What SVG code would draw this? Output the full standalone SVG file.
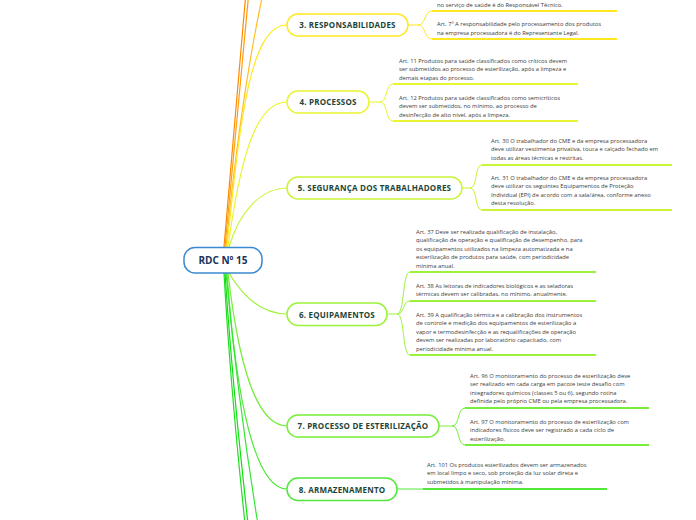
<svg xmlns="http://www.w3.org/2000/svg" width="696" height="520" viewBox="0 0 696 520">
<style>
.c{fill:none;stroke-width:1.2}
.l{fill:none;stroke-width:1}
.u{fill:none;stroke-width:2}
.n{fill:#fff;stroke-width:1.5}
.t{font-family:"Open Sans","Noto Sans",sans-serif;font-weight:bold;font-size:8px;fill:#1d4538;letter-spacing:0.2px}
.a{font-family:"Open Sans","Noto Sans",sans-serif;font-size:5.8px;fill:#3a3a3a}
.y3{stroke:#FFE81F}.y4{stroke:#E9F530}.y5{stroke:#C9F536}.y6{stroke:#9CF23A}.y7{stroke:#76EE3A}.y8{stroke:#52E83A}
</style>
<rect width="696" height="520" fill="#fff"/>
<g id="connectors">
<path class="c" stroke="#FF8A00" d="M224,247 L247,-20"/>
<path class="c" stroke="#FF9E10" d="M225,247 L250,-20"/>
<path class="c" stroke="#FFBE22" d="M226,247 C236,140 252,40 266,-20"/>
<path class="c y3" d="M227,247 C240,120 250,25 287,25"/>
<path class="c y4" d="M228,247 C240,160 255,102 287,102"/>
<path class="c y5" d="M229,247 C240,210 262,188 287,188"/>
<path class="c y6" d="M229,273 C245,300 265,314 287,314"/>
<path class="c y7" d="M228,273 C238,360 255,426 287,426"/>
<path class="c y8" d="M227,273 C236,400 255,489 287,489"/>
<path class="c" stroke="#22DD22" d="M224,273 C230,380 240,480 249,560"/>
<path class="c" stroke="#10E010" d="M225,273 C232,380 242,470 252,560"/>
<path class="c" stroke="#33E633" d="M226,273 C236,380 250,480 264,560"/>
<path class="l y3" d="M408,25 L418,25 C426,25 424,11 432,11 M418,25 C426,25 424,39 432,39"/>
<path class="l y4" d="M369,102 L380,102 C388,102 385,84 393,84 M380,102 C388,102 385,121 393,121"/>
<path class="l y5" d="M462,188 L470,188 C478,188 474,165 482,165 M470,188 C478,188 474,210 482,210"/>
<path class="l y6" d="M387,314 L397,314 C405,314 402,272 410,272 M397,314 C405,314 402,301 410,301 M397,314 C405,314 402,355 410,355"/>
<path class="l y7" d="M439,426 L452,426 C460,426 457,408 465,408 M452,426 C460,426 457,445 465,445"/>
<path class="l y8" d="M397,489 L423,489"/>
</g>
<g id="root">
<rect x="184" y="247.5" width="78" height="25.5" rx="11" fill="#fff" stroke="#3B8AD1" stroke-width="1.5"/>
<text x="223" y="264" text-anchor="middle" font-family="'Open Sans','Noto Sans',sans-serif" font-weight="bold" font-size="10px" fill="#16325c">RDC Nº 15</text>
</g>
<g id="n3">
<rect class="n y3" x="287" y="14" width="121" height="22" rx="11"/>
<text class="t" x="347.5" y="28" text-anchor="middle">3. RESPONSABILIDADES</text>
</g>
<g id="l3a">
<text class="a" x="437" y="6.5">no serviço de saúde é do Responsável Técnico.</text>
<path class="u y3" d="M432,11 L617,11"/>
</g>
<g id="l3b">
<text class="a" x="437"><tspan x="437" y="26">Art. 7º A responsabilidade pelo processamento dos produtos</tspan><tspan x="437" y="34.6">na empresa processadora é do Representante Legal.</tspan></text>
<path class="u y3" d="M432,39 L617,39"/>
</g>
<g id="n4">
<rect class="n y4" x="287" y="91" width="82" height="22" rx="11"/>
<text class="t" x="328" y="105" text-anchor="middle">4. PROCESSOS</text>
</g>
<g id="l4a">
<text class="a"><tspan x="399" y="62.5">Art. 11 Produtos para saúde classificados como críticos devem</tspan><tspan x="399" y="71">ser submetidos ao processo de esterilização, após a limpeza e</tspan><tspan x="399" y="79.5">demais etapas do processo.</tspan></text>
<path class="u y4" d="M393,84 L578,84"/>
</g>
<g id="l4b">
<text class="a"><tspan x="399" y="99.5">Art. 12 Produtos para saúde classificados como semicríticos</tspan><tspan x="399" y="108">devem ser submetidos, no mínimo, ao processo de</tspan><tspan x="399" y="116.5">desinfecção de alto nível, após a limpeza.</tspan></text>
<path class="u y4" d="M393,121 L578,121"/>
</g>
<g id="n5">
<rect class="n y5" x="287" y="177" width="175" height="22" rx="11"/>
<text class="t" x="374.5" y="191" text-anchor="middle">5. SEGURANÇA DOS TRABALHADORES</text>
</g>
<g id="l5a">
<text class="a"><tspan x="491" y="142.5">Art. 30 O trabalhador do CME e da empresa processadora</tspan><tspan x="491" y="151">deve utilizar vestimenta privativa, touca e calçado fechado em</tspan><tspan x="491" y="159.6">todas as áreas técnicas e restritas.</tspan></text>
<path class="u y5" d="M482,165 L672,165"/>
</g>
<g id="l5b">
<text class="a"><tspan x="491" y="179.5">Art. 31 O trabalhador do CME e da empresa processadora</tspan><tspan x="491" y="188">deve utilizar os seguintes Equipamentos de Proteção</tspan><tspan x="491" y="196.6">Individual (EPI) de acordo com a sala/área, conforme anexo</tspan><tspan x="491" y="205.2">desta resolução.</tspan></text>
<path class="u y5" d="M482,210 L672,210"/>
</g>
<g id="n6">
<rect class="n y6" x="287" y="303" width="100" height="22.5" rx="11"/>
<text class="t" x="337" y="317.5" text-anchor="middle">6. EQUIPAMENTOS</text>
</g>
<g id="l6a">
<text class="a"><tspan x="416" y="233.5">Art. 37 Deve ser realizada qualificação de instalação,</tspan><tspan x="416" y="242">qualificação de operação e qualificação de desempenho, para</tspan><tspan x="416" y="250.5">os equipamentos utilizados na limpeza automatizada e na</tspan><tspan x="416" y="259">esterilização de produtos para saúde, com periodicidade</tspan><tspan x="416" y="267.5">mínima anual.</tspan></text>
<path class="u y6" d="M410,272 L596,272"/>
</g>
<g id="l6b">
<text class="a"><tspan x="416" y="287.5">Art. 38 As leitoras de indicadores biológicos e as seladoras</tspan><tspan x="416" y="296">térmicas devem ser calibradas, no mínimo, anualmente.</tspan></text>
<path class="u y6" d="M410,301 L596,301"/>
</g>
<g id="l6c">
<text class="a"><tspan x="416" y="316.5">Art. 39 A qualificação térmica e a calibração dos instrumentos</tspan><tspan x="416" y="325">de controle e medição dos equipamentos de esterilização a</tspan><tspan x="416" y="333.5">vapor e termodesinfecção e as requalificações de operação</tspan><tspan x="416" y="342">devem ser realizadas por laboratório capacitado, com</tspan><tspan x="416" y="350.5">periodicidade mínima anual.</tspan></text>
<path class="u y6" d="M410,355 L596,355"/>
</g>
<g id="n7">
<rect class="n y7" x="287" y="415" width="152" height="22" rx="11"/>
<text class="t" x="363" y="429" text-anchor="middle">7. PROCESSO DE ESTERILIZAÇÃO</text>
</g>
<g id="l7a">
<text class="a"><tspan x="470" y="377.5">Art. 96 O monitoramento do processo de esterilização deve</tspan><tspan x="470" y="386">ser realizado em cada carga em pacote teste desafio com</tspan><tspan x="470" y="394.5">integradores químicos (classes 5 ou 6), segundo rotina</tspan><tspan x="470" y="403">definida pelo próprio CME ou pela empresa processadora.</tspan></text>
<path class="u y7" d="M465,408 L649,408"/>
</g>
<g id="l7b">
<text class="a"><tspan x="470" y="423.5">Art. 97 O monitoramento do processo de esterilização com</tspan><tspan x="470" y="432">indicadores físicos deve ser registrado a cada ciclo de</tspan><tspan x="470" y="440.5">esterilização.</tspan></text>
<path class="u y7" d="M465,445 L649,445"/>
</g>
<g id="n8">
<rect class="n y8" x="287" y="478" width="110" height="22.5" rx="11"/>
<text class="t" x="342" y="492.5" text-anchor="middle">8. ARMAZENAMENTO</text>
</g>
<g id="l8a">
<text class="a"><tspan x="427" y="466.5">Art. 101 Os produtos esterilizados devem ser armazenados</tspan><tspan x="427" y="475">em local limpo e seco, sob proteção da luz solar direta e</tspan><tspan x="427" y="483.5">submetidos à manipulação mínima.</tspan></text>
<path class="u y8" d="M423,489 L607,489"/>
</g>
<g id="l9a">
<text class="a" x="405" y="523.5">Art. 102 O transporte de produtos para saúde processados</text>
</g>
</svg>
